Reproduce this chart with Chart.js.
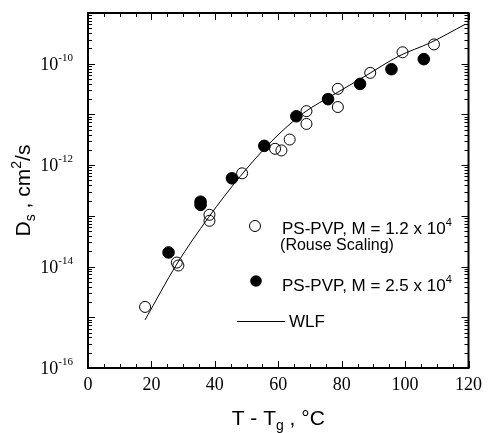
<!DOCTYPE html>
<html>
<head>
<meta charset="utf-8">
<script src="https://cdn.jsdelivr.net/npm/chart.js@4.4.0/dist/chart.umd.min.js"></script>
<style>
  html, body { margin: 0; padding: 0; background: #fff; }
</style>
</head>
<body>
<canvas id="dsChart" width="488" height="433"></canvas>
<script>
// T - Tg (°C) and Ds (cm^2/s)
var rouseT = [18, 28.0, 28.5, 38.3, 38.3, 48.6, 59, 61, 63.6, 68.9, 68.9, 78.8, 78.8, 89, 99.2, 109.1];
var rouseD = [1.6e-15, 1.2e-14, 1.05e-14, 1.05e-13, 8e-14, 6.9e-13, 2.1e-12, 1.95e-12, 3.2e-12, 1.16e-11, 6.5e-12, 3.2e-11, 1.4e-11, 6.6e-11, 1.68e-10, 2.4e-10];

var bigT = [25.4, 35.5, 35.5, 45.4, 55.6, 65.7, 75.7, 85.8, 95.7, 105.9];
var bigD = [1.9e-14, 1.9e-13, 1.65e-13, 5.5e-13, 2.4e-12, 9.2e-12, 2.0e-11, 4.0e-11, 7.8e-11, 1.23e-10];

var wlfT = [18, 28, 38, 48, 58, 68, 78, 88, 98, 108, 119];
var wlfD = [8.9e-16, 1.12e-14, 9.3e-14, 6.0e-13, 3.0e-12, 1.07e-11, 2.57e-11, 6.0e-11, 1.41e-10, 2.6e-10, 6.0e-10];

var xTicks = [0, 20, 40, 60, 80, 100, 120];
var yLabelExps = [-10, -12, -14, -16];

var SANS = "'Liberation Sans', Arial, sans-serif";
var SERIF = "'Liberation Serif', 'Times New Roman', serif";

function pairs(xs, ys) {
  return xs.map(function (x, i) { return { x: x, y: ys[i] }; });
}

// draw a row of text pieces (for sub/superscripts)
function drawRuns(c, runs, x, y, align) {
  var total = 0;
  runs.forEach(function (r) { c.font = r.font; r.w = c.measureText(r.text).width; total += r.w; });
  var cx = align === "right" ? x - total : align === "center" ? x - total / 2 : x;
  c.textBaseline = "alphabetic";
  c.textAlign = "left";
  runs.forEach(function (r) {
    c.font = r.font;
    c.fillText(r.text, cx, y + (r.dy || 0));
    cx += r.w;
  });
}

function tick(c, x1, y1, x2, y2) {
  c.beginPath(); c.moveTo(x1, y1); c.lineTo(x2, y2); c.stroke();
}

var decorations = {
  id: "decorations",
  beforeDatasetsDraw: function (chart) {
    var c = chart.ctx, a = chart.chartArea, xs = chart.scales.x, ys = chart.scales.y;
    c.save();
    c.strokeStyle = "#000";
    c.lineWidth = 1;
    for (var v = 0; v <= 120; v += 5) {
      var px = Math.round(xs.getPixelForValue(v)) + 0.5;
      var len = v % 20 === 0 ? 7 : 4;
      tick(c, px, a.bottom, px, a.bottom - len);
      tick(c, px, a.top, px, a.top + len);
    }
    for (var e = -16; e <= -10; e++) {
      for (var m = 1; m <= 9; m++) {
        var py = Math.round(ys.getPixelForValue(m * Math.pow(10, e))) + 0.5;
        var l = m === 1 ? 7 : 4;
        tick(c, a.left, py, a.left + l, py);
        tick(c, a.right, py, a.right - l, py);
      }
    }
    c.lineWidth = 2;
    c.strokeRect(a.left, a.top, a.right - a.left, a.bottom - a.top);
    c.restore();
  },
  afterDraw: function (chart) {
    var c = chart.ctx, a = chart.chartArea, ys = chart.scales.y;
    c.save();
    c.fillStyle = "#000";
    c.strokeStyle = "#000";

    // y tick labels 10^n
    yLabelExps.forEach(function (e) {
      var py = ys.getPixelForValue(Math.pow(10, e));
      var ex = "-" + Math.abs(e);
      c.font = "11px " + SERIF;
      var ew = c.measureText(ex).width;
      drawRuns(c, [{ text: "10", font: "18px " + SERIF }], a.left - 15 - ew, py + 6, "right");
      drawRuns(c, [{ text: ex, font: "11px " + SERIF }], a.left - 15 - ew, py - 3, "left");
    });

    // x title
    drawRuns(c, [
      { text: "T - T", font: "21px " + SANS },
      { text: "g", font: "14px " + SANS, dy: 5 },
      { text: " , \u00B0C", font: "21px " + SANS }
    ], (a.left + a.right) / 2, 425, "center");

    // y title
    c.save();
    c.translate(30, (a.top + a.bottom) / 2);
    c.rotate(-Math.PI / 2);
    drawRuns(c, [
      { text: "D", font: "21px " + SANS },
      { text: "s", font: "14px " + SANS, dy: 5 },
      { text: " , cm", font: "21px " + SANS },
      { text: "2", font: "14px " + SANS, dy: -9 },
      { text: "/s", font: "21px " + SANS }
    ], 0, 0, "center");
    c.restore();

    // legend
    c.lineWidth = 1;
    c.beginPath(); c.arc(255, 226, 5.5, 0, Math.PI * 2); c.stroke();
    c.beginPath(); c.arc(256, 281, 5.8, 0, Math.PI * 2); c.fill();
    tick(c, 237, 321.5, 285, 321.5);

    var lf = "17px " + SANS, sf = "11px " + SANS;
    drawRuns(c, [{ text: "PS-PVP, M = 1.2 x 10", font: lf }, { text: "4", font: sf, dy: -8 }], 282, 234, "left");
    drawRuns(c, [{ text: "(Rouse Scaling)", font: "16px " + SANS }], 337, 250, "center");
    drawRuns(c, [{ text: "PS-PVP, M = 2.5 x 10", font: lf }, { text: "4", font: sf, dy: -8 }], 282, 291, "left");
    drawRuns(c, [{ text: "WLF", font: lf }], 289, 327, "left");
    c.restore();
  }
};

var ctx = document.getElementById("dsChart").getContext("2d");
var dsChart = new Chart(ctx, {
  type: "scatter",
  data: {
    datasets: [
      {
        label: "WLF",
        type: "line",
        data: pairs(wlfT, wlfD),
        borderColor: "#000",
        borderWidth: 1,
        pointRadius: 0,
        fill: false,
        cubicInterpolationMode: "monotone",
        order: 3,
      },
      {
        label: "PS-PVP, M = 1.2 x 10^4 (Rouse Scaling)",
        data: pairs(rouseT, rouseD),
        pointRadius: 5.5,
        backgroundColor: "rgba(0,0,0,0)",
        borderColor: "#000",
        borderWidth: 1,
        order: 2,
      },
      {
        label: "PS-PVP, M = 2.5 x 10^4",
        data: pairs(bigT, bigD),
        pointRadius: 5.8,
        backgroundColor: "#000",
        borderColor: "#000",
        borderWidth: 1,
        order: 1,
      },
    ],
  },
  options: {
    responsive: false,
    animation: false,
    layout: { padding: { top: 13, right: 16, left: 0, bottom: 0 } },
    plugins: {
      legend: { display: false },
      tooltip: { enabled: false },
    },
    scales: {
      x: {
        type: "linear",
        min: 0,
        max: 120,
        afterBuildTicks: function (s) { s.ticks = xTicks.map(function (v) { return { value: v }; }); },
        ticks: { font: { family: SERIF, size: 18 }, color: "#000", padding: 6, maxRotation: 0 },
        grid: { display: false, drawTicks: false },
        border: { display: false },
        afterFit: function (s) { s.height = 65; },
      },
      y: {
        type: "logarithmic",
        min: 1e-16,
        max: 1e-9,
        ticks: { display: false },
        grid: { display: false, drawTicks: false },
        border: { display: false },
        afterFit: function (s) { s.width = 88; },
      },
    },
  },
  plugins: [decorations],
});
</script>
</body>
</html>
